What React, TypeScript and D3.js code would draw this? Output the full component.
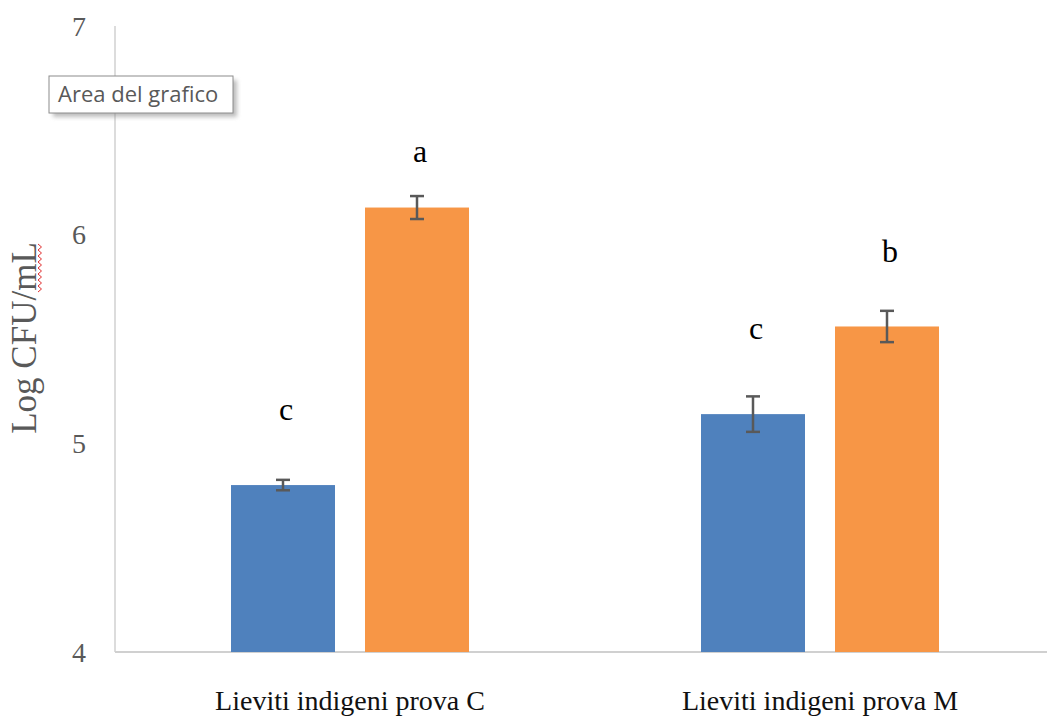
import React from "react";
import * as d3 from "d3";

const categories = ["Lieviti indigeni prova C", "Lieviti indigeni prova M"];
const seriesNames = ["Serie 1", "Serie 2"];
const series1Values = [4.8, 5.14];
const series2Values = [6.13, 5.56];
const series1Errors = [0.025, 0.085];
const series2Errors = [0.055, 0.075];
const series1Letters = ["c", "c"];
const series2Letters = ["a", "b"];
const series1LetterY = [5.11, 5.5];
const series2LetterY = [6.35, 5.87];
const yTicks = [4, 5, 6, 7];
const yTitle = "Log CFU/mL";
const seriesColors = ["#4f81bd", "#f79646"];

const W = 1047;
const H = 718;

export default function App() {
  const y = d3.scaleLinear().domain([4, 7]).range([652, 26]);
  const x0 = d3.scaleBand<string>().domain(categories).range([115, 1055]).padding(0);
  const x1 = d3
    .scaleBand<string>()
    .domain(seriesNames)
    .range([-119, 119])
    .paddingInner(0.224)
    .paddingOuter(0);

  const rows = categories.map((c, i) => ({
    cat: c,
    bars: [
      { s: seriesNames[0], v: series1Values[i], e: series1Errors[i], l: series1Letters[i], ly: series1LetterY[i], color: seriesColors[0] },
      { s: seriesNames[1], v: series2Values[i], e: series2Errors[i], l: series2Letters[i], ly: series2LetterY[i], color: seriesColors[1] },
    ],
  }));

  const serif = "'Liberation Serif', 'Times New Roman', serif";
  const capW = 7;

  // red spelling squiggle under "mL"
  const squig: [number, number][] = [];
  for (let k = 0; k <= 16; k++) squig.push([k % 2 === 0 ? 38 : 41.5, 244 + k * 3]);
  const squigPath = d3.line()(squig) || "";

  return (
    <svg
      width={W}
      height={H}
      style={{ position: "absolute", left: 0, top: 0, background: "#fff" }}
      xmlns="http://www.w3.org/2000/svg"
    >
      <defs>
        <filter id="sh" x="-20%" y="-50%" width="140%" height="200%">
          <feGaussianBlur stdDeviation="2" />
        </filter>
      </defs>
      <rect width={W} height={H} fill="#fff" />

      {/* axes */}
      <line x1={115} x2={115} y1={y(7)} y2={y(4)} stroke="#d0d0d0" strokeWidth={1.5} />
      <line x1={115} x2={W} y1={y(4)} y2={y(4)} stroke="#d0d0d0" strokeWidth={2} />

      {/* y ticks */}
      {yTicks.map((t) => (
        <text
          key={t}
          x={86}
          y={y(t)}
          dy="0.35em"
          textAnchor="end"
          fontFamily={serif}
          fontSize={28}
          fill="#595959"
        >
          {t}
        </text>
      ))}

      {/* y title */}
      <text
        transform={`translate(36, 338) rotate(-90)`}
        textAnchor="middle"
        fontFamily={serif}
        fontSize={35}
        fill="#595959"
      >
        {yTitle}
      </text>
      <path d={squigPath} fill="none" stroke="#e03030" strokeWidth={1} />

      {/* bars */}
      {rows.map((r) => {
        const cx = (x0(r.cat) || 0) + x0.bandwidth() / 2;
        return (
          <g key={r.cat}>
            {r.bars.map((b) => {
              const bx = cx + (x1(b.s) || 0);
              const bw = x1.bandwidth();
              const mx = bx + bw / 2;
              return (
                <g key={b.s}>
                  <rect x={bx} y={y(b.v)} width={bw} height={y(4) - y(b.v)} fill={b.color} />
                  <line x1={mx} x2={mx} y1={y(b.v + b.e)} y2={y(b.v - b.e)} stroke="#595959" strokeWidth={2.5} />
                  <line x1={mx - capW} x2={mx + capW} y1={y(b.v + b.e)} y2={y(b.v + b.e)} stroke="#595959" strokeWidth={2.5} />
                  <line x1={mx - capW} x2={mx + capW} y1={y(b.v - b.e)} y2={y(b.v - b.e)} stroke="#595959" strokeWidth={2.5} />
                  <text x={mx + 3} y={y(b.ly)} textAnchor="middle" fontFamily={serif} fontSize={32} fill="#000">
                    {b.l}
                  </text>
                </g>
              );
            })}
            <text
              x={cx}
              y={710}
              textAnchor="middle"
              fontFamily={serif}
              fontSize={28}
              fill="#111"
            >
              {r.cat}
            </text>
          </g>
        );
      })}

      {/* tooltip */}
      <rect x={53} y={80} width={184} height={37} fill="#888" opacity={0.55} filter="url(#sh)" />
      <rect x={49} y={76} width={184} height={37} fill="#fff" stroke="#8c8c8c" strokeWidth={1} />
      <text x={58} y={102} fontFamily="'Open Sans', 'Noto Sans', sans-serif" fontSize={22} fill="#595959">
        Area del grafico
      </text>
    </svg>
  );
}
